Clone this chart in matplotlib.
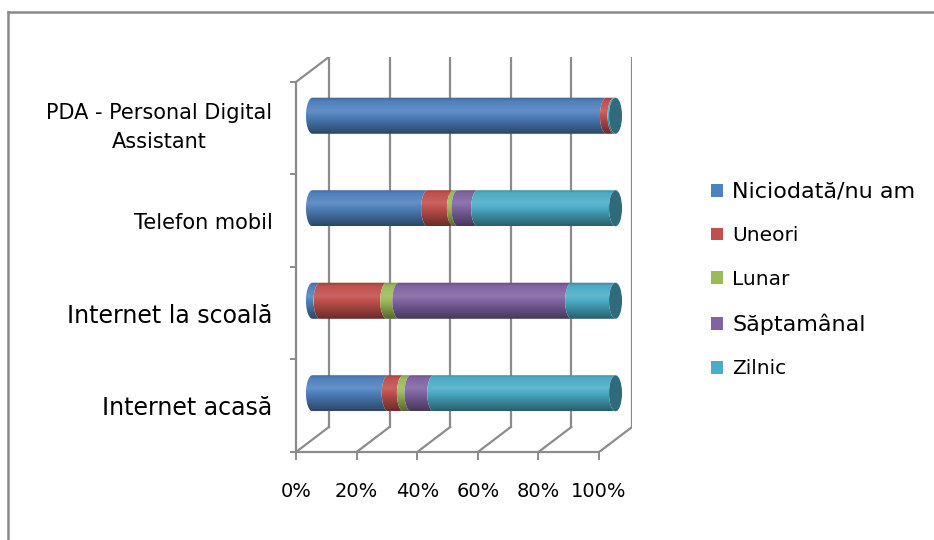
#! /usr/bin/env python3

'''
Stacked 100% horizontal cylinders (Excel-like 3D look) of how often
pupils use internet / phone / PDA.
'''

import numpy as np
import matplotlib
matplotlib.use('Agg')
import matplotlib.pyplot as plt
from matplotlib.colors import to_rgb
from matplotlib.path import Path
from matplotlib.patches import PathPatch, Ellipse, Patch
from matplotlib.lines import Line2D
from matplotlib.transforms import ScaledTranslation


categories = ['Internet acasă', 'Internet la scoală', 'Telefon mobil',
              'PDA - Personal Digital\nAssistant']
label_sizes = [17, 17, 15, 15]

series_names = ['Niciodată/nu am', 'Uneori', 'Lunar', 'Săptamânal', 'Zilnic']
legend_sizes = [16, 14.5, 14.5, 16, 14.5]
niciodata = [25, 2.5, 38, 97]
uneori = [5, 22, 8.5, 2.5]
lunar = [2.5, 4, 1.5, 0]
saptamanal = [7.5, 57, 6.5, 0]
zilnic = [60, 14.5, 45.5, 0.5]
series = [niciodata, uneori, lunar, saptamanal, zilnic]
colors = ['#4f81bd', '#c0504d', '#9bbb59', '#8064a2', '#4bacc6']

x_ticks = [0, 20, 40, 60, 80, 100]
x_labels = ['0%', '20%', '40%', '60%', '80%', '100%']

# fake 3D depth of the plot box (in data units)
DX = 10.86
DY = 0.27
GRID = '#8c8c8c'


def shade(color: str, n: int = 80) -> np.ndarray:
    '''
    Vertical gradient for a cylinder, bottom row first.
    '''
    base = np.array(to_rgb(color))
    t = np.linspace(0, 1, n)
    k = np.interp(t, [0, 0.3, 0.62, 0.9, 1.0], [0.55, 0.82, 1.12, 1.0, 0.78])
    out = np.where(k[:, None] < 1, base * k[:, None],
                   base + (1 - base) * (k[:, None] - 1))
    return np.clip(out, 0, 1)[:, None, :]


def segment_path(x0: float, x1: float, yc: float, a: float, h: float) -> Path:
    '''
    Slice of a cylinder seen from the right: convex left end, concave right.
    '''
    th = np.linspace(np.pi / 2, 3 * np.pi / 2, 40)
    left = np.column_stack([x0 + a * np.cos(th), yc + h * np.sin(th)])
    right = np.column_stack([x1 + a * np.cos(th[::-1]),
                             yc + h * np.sin(th[::-1])])
    verts = np.vstack([left, right, left[:1]])
    codes = [Path.MOVETO] + [Path.LINETO] * (len(verts) - 2) + [Path.CLOSEPOLY]
    return Path(verts, codes)


fig = plt.figure(figsize=(9.34, 5.4), dpi=100)
ax = fig.add_axes([296 / 934, 1 - 452 / 540, 336 / 934, 395 / 540])

# walls and floor
for v in x_ticks:
    ax.plot([v + DX, v + DX], [DY, 4 + DY], color=GRID, lw=1.6, zorder=1)
    ax.plot([v, v + DX], [0, DY], color=GRID, lw=1.6, zorder=1)
ax.plot([0, 100], [0, 0], color=GRID, lw=1.6, zorder=1, clip_on=False)
ax.plot([0, 0], [0, 4], color=GRID, lw=1.6, zorder=1, clip_on=False)
ax.plot([0, DX], [4, 4 + DY], color=GRID, lw=1.6, zorder=1)

# cylinders
a = 2.14
h = 0.195
for i in range(len(categories)):
    yc = i + 0.5 + DY / 2
    left = 0
    for values, color in zip(series, colors):
        v = values[i]
        if v <= 0:
            continue
        path = segment_path(left + DX / 2, left + v + DX / 2, yc, a, h)
        patch = PathPatch(path, fc='none', ec='none', transform=ax.transData)
        ax.add_patch(patch)
        im = ax.imshow(shade(color),
                       extent=[left + DX / 2 - a, left + v + DX / 2,
                               yc - h, yc + h],
                       origin='lower', aspect='auto',
                       interpolation='bilinear', zorder=3)
        im.set_clip_path(patch)
        left += v
    cap = Ellipse((left + DX / 2, yc), 2 * a, 2 * h,
                  fc=tuple(np.array(to_rgb(colors[-1])) * 0.62),
                  ec='none', zorder=4)
    ax.add_patch(cap)

ax.set_xlim(0, 100 + DX)
ax.set_ylim(0, 4 + DY)

for spine in ax.spines.values():
    spine.set_visible(False)

ax.set_xticks(x_ticks)
ax.set_xticklabels(x_labels, fontsize=14)
ax.tick_params(axis='x', direction='out', length=5.8, width=1.4,
               color=GRID, pad=16)

ax.set_yticks([i + 0.5 for i in range(len(categories))])
ax.set_yticklabels(categories)
ax.set_yticks(range(len(categories) + 1), minor=True)
ax.tick_params(axis='y', which='major', length=0, pad=17)
ax.tick_params(axis='y', which='minor', direction='out', length=4.3,
               width=1.4, color=GRID)
for label, size in zip(ax.get_yticklabels(), label_sizes):
    label.set_fontsize(size)
    label.set_multialignment('center')
    label.set_linespacing(1.55)
# two-line label sits a bit higher in the original
pda = ax.get_yticklabels()[-1]
pda.set_transform(pda.get_transform()
                  + ScaledTranslation(0, 0.07, fig.dpi_scale_trans))

handles = [Patch(facecolor=c, edgecolor='none') for c in colors]
leg = fig.legend(handles, series_names, loc='center left',
                 bbox_to_anchor=(711 / 934, 1 - 280 / 540),
                 frameon=False, fontsize=14.5, handlelength=0.6,
                 handleheight=0.6, handletextpad=0.45, labelspacing=1.22,
                 borderpad=0, borderaxespad=0)
for text, size in zip(leg.get_texts(), legend_sizes):
    text.set_fontsize(size)

# chart area border, cut by the right and bottom edges of the picture
fig.add_artist(Line2D([8 / 934, 8 / 934], [-0.05, 1 - 12 / 540],
                      transform=fig.transFigure, color='#8a8a8a', lw=1.8))
fig.add_artist(Line2D([8 / 934, 1.05], [1 - 12 / 540, 1 - 12 / 540],
                      transform=fig.transFigure, color='#8a8a8a', lw=1.8))

fig.savefig('out.png', dpi=100)
